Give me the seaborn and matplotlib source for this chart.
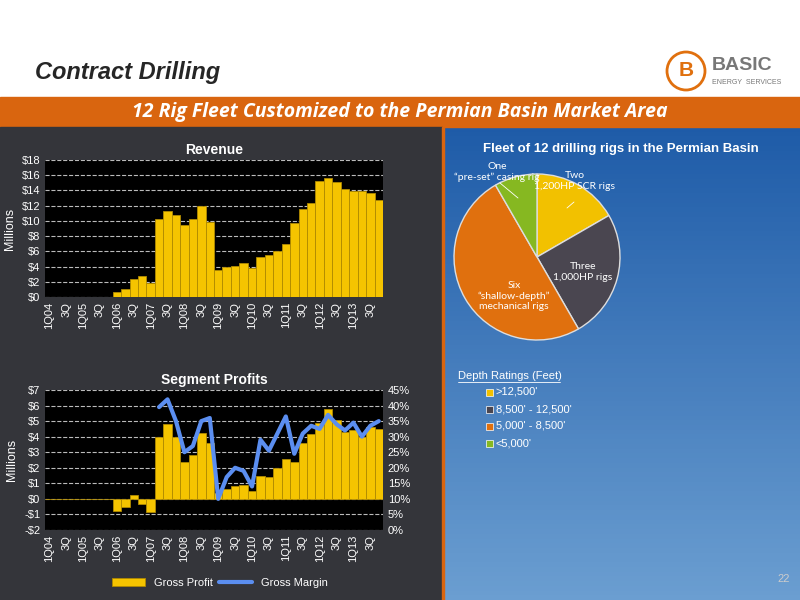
import numpy as np
import pandas as pd
import matplotlib
matplotlib.use("Agg")
import matplotlib.pyplot as plt
import seaborn as sns
from matplotlib.patches import Rectangle

sns.set_style("dark")
plt.rcParams['font.family'] = ['Liberation Sans', 'DejaVu Sans']

years = ["04", "05", "06", "07", "08", "09", "10", "11", "12", "13"]
quarters = [f"{q}Q{y}" for y in years for q in (1, 2, 3, 4)]
tick_labels = []
for y in years:
    tick_labels += [f"1Q{y}", "", "3Q", ""]

revenue = [0, 0, 0, 0, 0, 0, 0, 0,
           0.6, 1.1, 2.3, 2.7, 1.9, 10.2, 11.3, 10.8,
           9.4, 10.2, 12.0, 9.9, 3.6, 3.9, 4.1, 4.5,
           3.8, 5.2, 5.5, 6.1, 7.0, 9.7, 11.6, 12.4,
           15.2, 15.6, 15.1, 14.2, 13.9, 13.9, 13.7, 12.7]
gross_profit = [0, 0, 0, 0, 0, 0, 0, 0,
                -0.8, -0.5, 0.25, -0.3, -0.85, 4.0, 4.8, 3.95,
                2.4, 2.8, 4.25, 3.6, 0.35, 0.65, 0.8, 0.9,
                0.5, 1.5, 1.4, 2.0, 2.55, 2.35, 3.6, 4.15,
                4.9, 5.8, 5.05, 4.3, 4.4, 4.0, 4.6, 4.5]
gross_margin = [None] * 13 + [39.5, 42, 35, 25, 27, 35, 36,
                              10, 17, 20, 19, 14, 29, 25.5, 31,
                              36.5, 24.5, 31, 33.5, 32.5, 37, 34, 32,
                              34.5, 30, 33.5, 35]

pie_labels = ["Two\n1,200HP SCR rigs", "Three\n1,000HP rigs",
              "Six\n\u201cshallow-depth\u201d\nmechanical rigs", "One\n\u201cpre-set\u201d casing rig"]
pie_counts = [2, 3, 6, 1]
pie_legend = [">12,500'", "8,500' - 12,500'", "5,000' - 8,500'", "<5,000'"]
pie_colors = ["#f2c100", "#4a4650", "#e0700e", "#86b821"]

W, H = 800, 600
fig = plt.figure(figsize=(8, 6), dpi=100)
fig.patch.set_facecolor("white")

def ax_px(x, y, w, h):
    return fig.add_axes([x / W, 1 - (y + h) / H, w / W, h / H])

# background
bg = ax_px(0, 0, 800, 600); bg.set_axis_off(); bg.set_xlim(0, 800); bg.set_ylim(600, 0)
bg.set_zorder(-1)
bg.add_patch(Rectangle((0, 97), 800, 30, color="#d9650f"))
bg.add_patch(Rectangle((0, 127), 442, 473, color="#34353a"))
sky = np.linspace(0, 1, 100)[:, None]
bg.imshow(np.dstack([0.12 + 0.30 * sky, 0.36 + 0.26 * sky, 0.66 + 0.16 * sky]),
          extent=(444, 800, 600, 127), aspect="auto")
bg.add_patch(Rectangle((442, 127), 2, 473, color="#d9650f"))

gold = "#f5c400"
def style(ax):
    ax.set_facecolor("black")
    ax.grid(axis="y", color="#bbbbbb", ls="--", lw=0.8)
    ax.grid(axis="x", visible=False)
    ax.tick_params(colors="white", labelsize=8, length=0)
    for s in ax.spines.values():
        s.set_visible(False)
    ax.set_xticks(range(40))
    ax.set_xticklabels(tick_labels, rotation=90, color="white", fontsize=8)
    ax.set_xlim(-0.5, 39.5)

df = pd.DataFrame({"q": quarters, "rev": revenue, "gp": gross_profit, "gm": gross_margin, "i": range(40)})

# Revenue
ax1 = ax_px(45, 160, 338, 137)
sns.barplot(data=df, x="q", y="rev", color=gold, width=1.0, edgecolor="#b08a00", linewidth=0.6,
            saturation=1, ax=ax1)
style(ax1)
ax1.set_ylim(0, 18); ax1.set_yticks(range(0, 19, 2))
ax1.set_yticklabels([f"${v}" for v in range(0, 19, 2)], color="white")
ax1.set_xlabel(""); ax1.set_ylabel("Millions", color="white", fontsize=9)
ax1.set_title("Revenue", color="white", fontsize=10, fontweight="bold", pad=4)

# Segment profits
ax2 = ax_px(45, 390, 338, 140)
sns.barplot(data=df, x="q", y="gp", color=gold, width=1.0, edgecolor="#b08a00", linewidth=0.6,
            saturation=1, ax=ax2, label="Gross Profit")
style(ax2)
if ax2.get_legend():
    ax2.get_legend().remove()
ax2.set_ylim(-2, 7); ax2.set_yticks(range(-2, 8))
ax2.set_yticklabels([f"-${-v}" if v < 0 else f"${v}" for v in range(-2, 8)], color="white")
ax2.set_xlabel(""); ax2.set_ylabel("Millions", color="white", fontsize=9)
ax2.set_title("Segment Profits", color="white", fontsize=10, fontweight="bold", pad=4)
ax3 = ax2.twinx()
sns.lineplot(data=df.dropna(), x="i", y="gm", color="#5b8ef0", lw=3, ax=ax3, label="Gross Margin", legend=False)
ax3.set_ylim(0, 45); ax3.set_yticks(range(0, 46, 5))
ax3.set_yticklabels([f"{v}%" for v in range(0, 46, 5)], color="white")
ax3.tick_params(colors="white", labelsize=8, length=0)
ax3.set_ylabel(""); ax3.set_xlabel("")
for s in ax3.spines.values():
    s.set_visible(False)
ax3.grid(False)
h1, l1 = ax2.get_legend_handles_labels(); h2, l2 = ax3.get_legend_handles_labels()
fig.legend(h1 + h2, l1 + l2, loc="center", bbox_to_anchor=(220 / W, 1 - 583 / H), ncol=2,
           frameon=False, fontsize=8, labelcolor="white", handlelength=3, columnspacing=0.5)

# Pie
axp = ax_px(454, 174, 166, 166)
axp.pie(pie_counts, colors=pie_colors, startangle=90, counterclock=False,
        wedgeprops=dict(edgecolor="#dddddd", linewidth=1))
axp.set_xlim(-1.0, 1.0); axp.set_ylim(-1.0, 1.0)
axp.set_aspect("equal")

# overlay text
top = ax_px(0, 0, 800, 600); top.set_axis_off(); top.set_xlim(0, 800); top.set_ylim(600, 0)
top.patch.set_alpha(0)
top.text(35, 72, "Contract Drilling", fontsize=17, fontweight="bold", style="italic", va="center")
top.text(400, 112, "12 Rig Fleet Customized to the Permian Basin Market Area", fontsize=14,
         fontweight="bold", style="italic", color="white", ha="center", va="center",
         family=["Open Sans", "DejaVu Sans"])
top.add_patch(plt.Circle((686, 71), 19, fill=False, ec="#e0700e", lw=2))
top.text(686, 71, "B", fontsize=15, fontweight="bold", color="#e0700e", ha="center", va="center")
top.text(712, 66, "BASIC", fontsize=14, fontweight="bold", color="#777777", va="center")
top.text(712, 82, "ENERGY  SERVICES", fontsize=5, color="#777777", va="center")
top.text(790, 582, "22", fontsize=8, color="#cccccc", ha="right")
top.text(621, 149, "Fleet of 12 drilling rigs in the Permian Basin", color="white", fontsize=9.5,
         fontweight="bold", ha="center", va="center")
pf = dict(fontsize=7.5, color="white", ha="center", va="center", family=["Lato", "DejaVu Sans"])
top.text(575, 181, pie_labels[0], **pf)
top.text(583, 272, pie_labels[1], **pf)
top.text(514, 296, pie_labels[2], **pf)
top.text(497, 172, pie_labels[3], **pf)
top.plot([567, 574], [208, 202], color="white", lw=0.6)
top.plot([500, 518], [183, 198], color="white", lw=0.6)
top.text(458, 376, "Depth Ratings (Feet)", color="white", fontsize=8, va="center")
top.plot([458, 560], [382, 382], color="white", lw=0.6)
for k, (lab, c) in enumerate(zip(pie_legend, pie_colors)):
    yy = 392 + 17 * k
    top.add_patch(Rectangle((486, yy - 3.5), 7, 7, color=c, ec="white", lw=0.5))
    top.text(496, yy, lab, color="white", fontsize=8, va="center")

fig.savefig("out.png", dpi=100)
